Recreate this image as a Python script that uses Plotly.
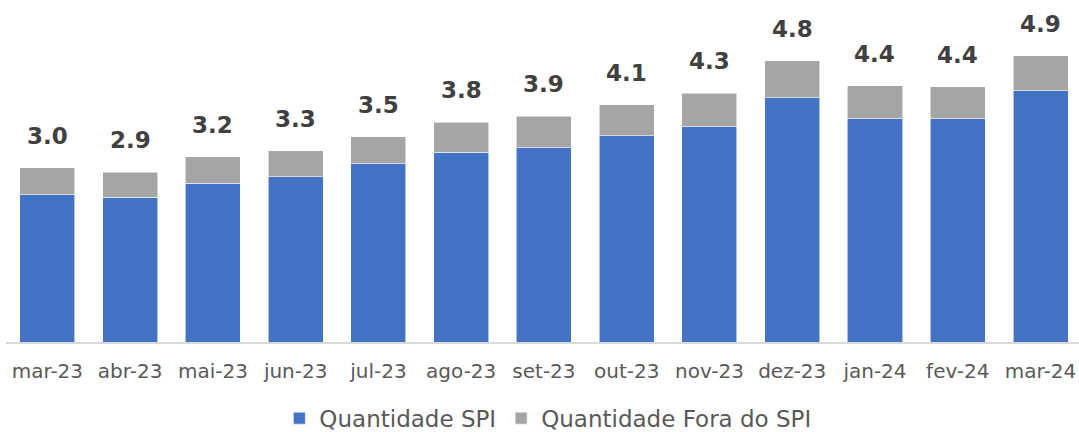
import plotly.graph_objects as go

categories = ["mar-23", "abr-23", "mai-23", "jun-23", "jul-23", "ago-23", "set-23",
              "out-23", "nov-23", "dez-23", "jan-24", "fev-24", "mar-24"]
spi = [2.52, 2.48, 2.72, 2.83, 3.05, 3.25, 3.32, 3.53, 3.68, 4.18, 3.82, 3.82, 4.30]
fora_spi = [0.46, 0.42, 0.45, 0.44, 0.46, 0.51, 0.54, 0.53, 0.58, 0.63, 0.56, 0.55, 0.60]
totals = [a + b for a, b in zip(spi, fora_spi)]
total_labels = [f"{t:.1f}" for t in totals]

FONT = "DejaVu Sans"
fig = go.Figure()
fig.add_trace(go.Bar(x=categories, y=spi, name="Quantidade SPI",
                     marker=dict(color="#4472C4", line=dict(color="rgba(255,255,255,0.7)", width=0.8))))
fig.add_trace(go.Bar(x=categories, y=fora_spi, name="Quantidade Fora do SPI",
                     marker=dict(color="#A5A5A5", line=dict(color="rgba(255,255,255,0.7)", width=0.8))))

for c, t, lab in zip(categories, totals, total_labels):
    fig.add_annotation(x=c, y=t, text=f"<b>{lab}</b>", showarrow=False,
                       yanchor="bottom", yshift=17,
                       font=dict(family=FONT, size=23, color="#404040"))

fig.update_layout(
    barmode="stack",
    bargap=0.335,
    width=1079, height=432,
    margin=dict(l=6, r=0, t=10, b=90, autoexpand=False),
    plot_bgcolor="white", paper_bgcolor="white",
    font=dict(family=FONT, color="#595959"),
    showlegend=True,
    legend=dict(orientation="h", x=0.505, xanchor="center", yref="container", y=0.032,
                yanchor="middle", font=dict(family=FONT, size=23, color="#595959"),
                traceorder="normal", itemwidth=30),
    xaxis=dict(showline=True, linecolor="#D9D9D9", linewidth=2, ticks="",
               tickfont=dict(family=FONT, size=20, color="#595959"),
               ticklabelstandoff=10,
               range=[-0.5, 12.465]),
    yaxis=dict(visible=False, range=[0, 5.68], showgrid=False, zeroline=False),
)

fig.write_html("out.html",
               config={"displayModeBar": False},
               post_script="document.body.style.margin='0';document.body.style.overflow='hidden';")
